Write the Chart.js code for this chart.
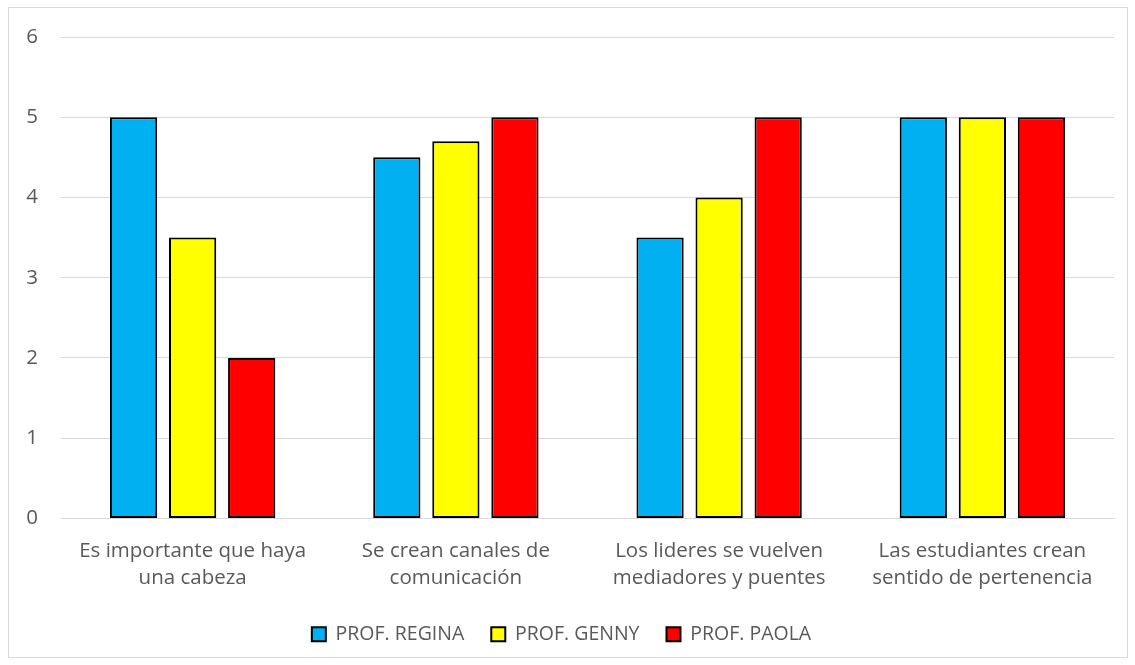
<!DOCTYPE html>
<html>
<head>
<meta charset="utf-8">
<script src="https://cdn.jsdelivr.net/npm/chart.js@4"></script>
<style>
  body { margin: 0; background: #fff; }
  #box { position: absolute; left: 8px; top: 7px; width: 1118px; height: 649px; border: 1px solid #d9d9d9; }
</style>
</head>
<body>
<div id="box"><canvas id="chart" width="1118" height="649"></canvas></div>
<script>
// categorías
const categorias = [
    ["Es importante que haya", "una cabeza"],
    ["Se crean canales de", "comunicación"],
    ["Los lideres se vuelven", "mediadores y puentes"],
    ["Las estudiantes crean", "sentido de pertenencia"]
];
const regina = [5, 4.5, 3.5, 5];
const genny = [3.5, 4.7, 4, 5];
const paola = [2, 5, 5, 5];
const yTicks = [0, 1, 2, 3, 4, 5, 6];

const fuente = "'Open Sans', sans-serif";

window.addEventListener("load", ()=>{
    const ctx = document.getElementById("chart");
    new Chart(ctx, {
        type: "bar",
        data: {
            labels: categorias,
            datasets: [
                { label: "PROF. REGINA", data: regina, backgroundColor: "#00b0f0" },
                { label: "PROF. GENNY", data: genny, backgroundColor: "#ffff00" },
                { label: "PROF. PAOLA", data: paola, backgroundColor: "#ff0000" }
            ].map(d => Object.assign(d, { borderColor: "#000000", borderWidth: 2, borderSkipped: false,
                                          categoryPercentage: 0.673, barPercentage: 0.8 }))
        },
        options: {
            responsive: false,
            animation: false,
            layout: { padding: { left: 0, right: 13, top: 0, bottom: 3 } },
            plugins: {
                legend: {
                    position: "bottom",
                    labels: {
                        color: "#595959",
                        font: { family: fuente, size: 19.5 },
                        boxWidth: 14, boxHeight: 14,
                        padding: 27
                    }
                },
                tooltip: { enabled: false }
            },
            scales: {
                x: {
                    grid: { display: false, drawTicks: false },
                    border: { color: "#d9d9d9", width: 1 },
                    ticks: { color: "#595959", font: { family: fuente, size: 20.5, lineHeight: 1.32 }, padding: 19, maxRotation: 0 },
                    afterFit: (s) => { s.height -= 13; s.paddingLeft = 0; s.paddingRight = 0; }
                },
                y: {
                    min: 0, max: 6,
                    afterBuildTicks: (axis) => { axis.ticks = yTicks.map(v => ({ value: v })); },
                    afterFit: (s) => { s.width = 52; s.paddingTop = 29; s.paddingBottom = 0; },
                    grid: { color: "#d9d9d9", drawTicks: false },
                    border: { display: false },
                    ticks: { color: "#595959", font: { family: fuente, size: 20.5 }, padding: 23 }
                }
            }
        }
    });
});
</script>
</body>
</html>
